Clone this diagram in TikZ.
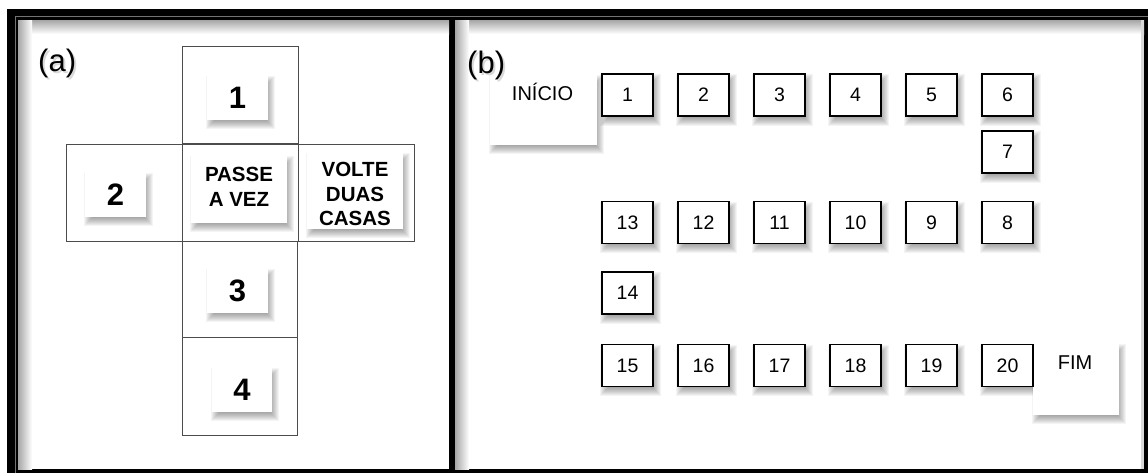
\documentclass[tikz,border=0pt]{standalone}
\usepackage{fontspec}
\setmainfont{Liberation Sans}
\pgfdeclarelayer{bg}
\pgfdeclarelayer{shadow}
\pgfsetlayers{bg,shadow,main}
\begin{document}
\begin{tikzpicture}[x=1pt,y=-1pt,
  bigsq/.style={draw=black!70, line width=0.8pt, minimum width=116pt, minimum height=97pt, inner sep=0pt},
  card/.style={fill=white, inner sep=0pt},
  bcard/.style={card, font=\fontsize{31}{31}\selectfont\bfseries, minimum width=61pt, minimum height=45pt},
  wtext/.style={font=\fontsize{20.5}{24.5}\selectfont\bfseries, align=center, inner sep=0pt},
  cell/.style={card, draw=black, line width=1.1pt, minimum width=51pt, minimum height=42pt, font=\fontsize{19.5}{19.5}\selectfont},
  lbl/.style={font=\fontsize{31}{31}\selectfont, anchor=base west, inner sep=0pt},
  ctext/.style={font=\fontsize{20}{20}\selectfont, anchor=base, inner sep=0pt},
  shadowpiece/.style={fill=black, opacity=0.045}
]
\useasboundingbox (0,0) rectangle (1148,474);
% frame
\begin{pgfonlayer}{bg}
\fill[black] (7,9) rectangle (1148,473);
\draw[black!55, line width=1pt] (15,473) -- (15,16.5) -- (1148,16.5);
\fill[white] (18,20) rectangle (449,469);
\fill[white] (455,20) rectangle (1144,469);
\shade[top color=black!35, bottom color=white] (18,20) rectangle (449,34);
\shade[left color=black!35, right color=white] (18,20) rectangle (32,469);
\shade[top color=black!35, bottom color=white] (455,20) rectangle (1144,34);
\shade[left color=black!35, right color=white] (455,20) rectangle (469,469);
\fill[black!15] (1141,20) rectangle (1144,469);
\end{pgfonlayer}

% panel (a)
\node[lbl, text=black!15] (lash) at (40,73) {(a)};
\node[lbl] (la) at (38,71) {(a)};
\node[bigsq] (sq1) at (240,94.5) {};
\node[bigsq] (sq2) at (124,192.5) {};
\node[bigsq] (sqc) at (240,192.5) {};
\node[bigsq] (sqv) at (356,192.5) {};
\node[bigsq, minimum width=115pt, minimum height=96pt] (sq3) at (239.5,289) {};
\node[bigsq, minimum width=115pt, minimum height=98pt] (sq4) at (239.5,386) {};

\node[bcard] (n1) at (237.5,97.5) {1};
\node[bcard] (n2) at (115.5,194.5) {2};
\node[card, minimum width=96pt, minimum height=68pt] (pass) at (239,189) {};
\node[wtext] (passT) at (239,187) {PASSE\\A VEZ};
\node[card, minimum width=96pt, minimum height=77pt] (volte) at (355,190.5) {};
\node[wtext] (volteT) at (355,194) {VOLTE\\DUAS\\CASAS};
\node[bcard] (n3) at (237.5,290.5) {3};
\node[bcard, minimum width=60pt] (n4) at (242,389.5) {4};

% panel (b)
\node[card, minimum width=107pt, minimum height=71pt, anchor=north west] (ini) at (490,74) {};
\node[lbl, text=black!15] (lbsh) at (469,75) {(b)};
\node[lbl] (lb) at (467,73) {(b)};
\node[ctext] (iniT) at (542.5,100) {INÍCIO};
\node[card, minimum width=86pt, minimum height=72pt, anchor=north west] (fim) at (1033,343) {};
\node[ctext] (fimT) at (1075,369) {FIM};

\foreach \i in {0,...,5} {
  \pgfmathtruncatemacro{\a}{\i+1}
  \pgfmathtruncatemacro{\b}{13-\i}
  \pgfmathtruncatemacro{\c}{15+\i}
  \node[cell] (c\a) at (627.5+76*\i,95) {\a};
  \node[cell] (c\b) at (627.5+76*\i,222.5) {\b};
  \node[cell] (c\c) at (627.5+76*\i,365.5) {\c};
}
\node[cell] (c7) at (1007.5,152) {7};
\node[cell] (c14) at (627.5,293) {14};

% soft shadows
\begin{pgfonlayer}{shadow}
\foreach \n in {n1,n2,n3,n4,pass,volte,ini,fim,c1,c2,c3,c4,c5,c6,c7,c8,c9,c10,c11,c12,c13,c14,c15,c16,c17,c18,c19,c20} {
  \foreach \e in {-4,-3,-2,-1,0,1,2,3,4} {
    \fill[shadowpiece] ([shift={(3-\e,5-\e)}]\n.north west) rectangle ([shift={(3+\e,5+\e)}]\n.south east);
  }
}
\end{pgfonlayer}
\end{tikzpicture}
\end{document}
